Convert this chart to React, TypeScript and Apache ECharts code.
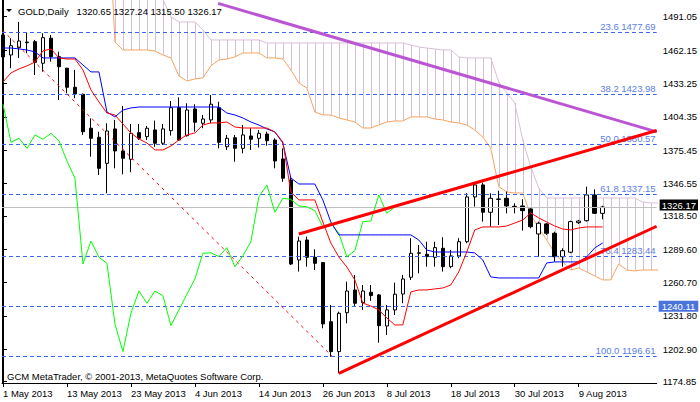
import React, { useEffect, useRef } from 'react';
import * as echarts from 'echarts';

// ---------- data ----------
const dateLabels = ['1 May 2013', '13 May 2013', '23 May 2013', '4 Jun 2013', '14 Jun 2013', '26 Jun 2013', '8 Jul 2013', '18 Jul 2013', '30 Jul 2013', '9 Aug 2013'];
const dateTickBars = [0, 8, 16, 24, 32, 40, 48, 56, 64, 72];
const priceTicks = [1491.05, 1462.15, 1433.25, 1404.35, 1375.45, 1346.55, 1318.5, 1289.6, 1260.7, 1231.8, 1202.9, 1174.85];

const opens = [1475.2, 1457.9, 1464.2, 1468.5, 1469.4, 1450.7, 1472.4, 1456.4, 1446.4, 1429.9, 1423.8, 1394.4, 1386.6, 1364.0, 1393.8, 1374.7, 1367.5, 1390.6, 1387.1, 1392.9, 1381.4, 1392.3, 1412.2, 1388.0, 1411.1, 1398.7, 1401.6, 1412.2, 1378.4, 1386.2, 1377.0, 1387.7, 1385.7, 1389.4, 1384.2, 1367.8, 1349.6, 1280.3, 1297.6, 1282.6, 1278.0, 1226.8, 1200.9, 1234.6, 1254.3, 1243.3, 1252.3, 1250.0, 1223.1, 1237.0, 1250.8, 1265.3, 1286.1, 1285.2, 1282.6, 1290.4, 1274.5, 1283.8, 1296.1, 1334.9, 1345.3, 1321.6, 1333.1, 1333.7, 1326.8, 1327.1, 1324.5, 1302.8, 1311.5, 1303.4, 1283.1, 1287.0, 1312.6, 1314.3, 1336.6, 1320.65];
const closes = [1456.2, 1465.9, 1470.0, 1469.1, 1451.5, 1472.9, 1456.4, 1447.7, 1429.9, 1424.1, 1391.4, 1385.7, 1359.7, 1392.0, 1374.7, 1368.4, 1390.0, 1385.7, 1394.4, 1381.4, 1393.8, 1412.2, 1384.2, 1410.2, 1399.6, 1402.4, 1415.2, 1382.2, 1385.7, 1377.0, 1388.6, 1384.9, 1390.0, 1383.6, 1366.0, 1351.1, 1276.8, 1296.7, 1282.6, 1277.4, 1224.9, 1200.9, 1234.1, 1253.4, 1242.8, 1253.4, 1249.4, 1223.4, 1237.0, 1250.6, 1263.8, 1286.1, 1286.5, 1283.2, 1291.0, 1274.5, 1283.8, 1296.1, 1334.9, 1345.3, 1321.6, 1333.7, 1332.8, 1327.1, 1326.4, 1323.0, 1309.1, 1312.1, 1303.4, 1283.1, 1288.3, 1313.5, 1314.0, 1336.6, 1320.7, 1326.17];
const lows = [1438.8, 1446.4, 1455.3, 1459.4, 1440.5, 1443.4, 1452.1, 1418.9, 1424.7, 1420.4, 1388.6, 1369.8, 1353.9, 1338.1, 1359.7, 1354.5, 1356.3, 1384.2, 1384.2, 1378.4, 1379.9, 1388.0, 1383.4, 1387.1, 1391.4, 1394.4, 1398.7, 1377.0, 1375.6, 1365.4, 1372.7, 1375.6, 1377.6, 1379.3, 1359.7, 1348.1, 1275.9, 1270.2, 1274.5, 1271.6, 1221.1, 1196.5, 1182.1, 1225.4, 1239.8, 1237.0, 1244.8, 1208.6, 1215.3, 1232.6, 1242.8, 1262.9, 1268.8, 1274.5, 1274.5, 1270.2, 1273.1, 1281.8, 1294.8, 1326.5, 1313.5, 1309.1, 1310.6, 1320.7, 1320.7, 1305.7, 1307.7, 1283.1, 1302.0, 1278.8, 1274.5, 1286.1, 1311.5, 1313.6, 1320.2, 1315.5];
const highs = [1477.8, 1472.4, 1486.5, 1477.5, 1470.9, 1476.7, 1475.2, 1460.7, 1446.8, 1444.9, 1424.5, 1403.0, 1391.4, 1398.7, 1401.6, 1413.7, 1398.1, 1398.1, 1396.4, 1401.0, 1398.1, 1418.0, 1421.2, 1416.0, 1415.2, 1405.9, 1423.2, 1417.4, 1388.6, 1388.6, 1397.2, 1394.4, 1392.9, 1391.4, 1385.7, 1377.0, 1352.2, 1300.5, 1300.5, 1289.6, 1278.5, 1241.3, 1235.5, 1261.5, 1267.3, 1258.6, 1258.6, 1250.8, 1241.3, 1260.6, 1267.3, 1299.1, 1293.3, 1296.1, 1296.1, 1300.0, 1289.0, 1299.1, 1338.1, 1347.3, 1347.3, 1338.1, 1340.3, 1339.5, 1329.4, 1332.9, 1325.1, 1313.5, 1312.1, 1304.8, 1290.4, 1314.3, 1315.0, 1343.8, 1341.5, 1327.24];

const tenkan = [1434.5, 1442.3, 1445.8, 1448.4, 1451.8, 1461.4, 1463.1, 1455.3, 1454.4, 1454.4, 1444.9, 1427.6, 1417.2, 1407.6, 1405.9, 1398.1, 1390.3, 1385.1, 1381.6, 1375.6, 1375.6, 1379.0, 1384.2, 1388.6, 1390.3, 1397.2, 1399.0, 1399.0, 1399.8, 1395.5, 1394.6, 1394.6, 1394.6, 1394.6, 1391.2, 1382.5, 1339.2, 1332.3, 1332.3, 1332.3, 1313.2, 1295.0, 1282.9, 1274.2, 1263.0, 1243.0, 1240.4, 1237.0, 1230.1, 1224.0, 1224.0, 1252.6, 1254.3, 1254.3, 1255.2, 1256.0, 1258.6, 1269.9, 1287.2, 1306.3, 1308.9, 1308.9, 1308.9, 1309.7, 1312.3, 1314.9, 1321.0, 1316.7, 1313.2, 1309.7, 1307.1, 1306.3, 1308.0, 1308.9, 1308.9, 1308.9];
const kijun = [1463.9, 1463.9, 1463.1, 1462.2, 1460.5, 1455.3, 1455.3, 1455.3, 1455.3, 1455.3, 1449.2, 1443.2, 1443.2, 1408.5, 1404.2, 1410.2, 1412.0, 1412.8, 1412.8, 1412.8, 1412.8, 1412.8, 1412.8, 1412.8, 1412.8, 1412.8, 1412.8, 1412.8, 1407.6, 1405.9, 1403.3, 1399.8, 1397.2, 1393.8, 1391.2, 1381.6, 1351.3, 1346.1, 1346.1, 1346.1, 1332.3, 1313.2, 1302.0, 1302.0, 1302.0, 1302.0, 1302.0, 1302.0, 1302.0, 1302.0, 1302.0, 1302.0, 1297.6, 1288.9, 1287.2, 1287.2, 1287.2, 1287.2, 1287.2, 1286.4, 1280.3, 1265.6, 1264.7, 1264.7, 1264.7, 1264.7, 1264.7, 1264.7, 1277.7, 1278.6, 1278.6, 1278.6, 1278.6, 1282.9, 1290.7, 1295.0];
const chikou = [1415.2, 1382.2, 1385.7, 1377.0, 1388.6, 1384.9, 1390.0, 1383.6, 1366.0, 1351.1, 1276.8, 1296.7, 1282.6, 1277.4, 1224.9, 1200.9, 1234.1, 1253.4, 1242.8, 1253.4, 1249.4, 1223.4, 1237.0, 1250.6, 1263.8, 1286.1, 1286.5, 1283.2, 1291.0, 1274.5, 1283.8, 1296.1, 1334.9, 1345.3, 1321.6, 1333.7, 1332.8, 1327.1, 1326.4, 1323.0, 1309.1, 1312.1, 1303.4, 1283.1, 1288.3, 1313.5, 1314.0, 1336.6, 1320.7, 1326.17];
const spanA = [1610, 1610, 1610, 1610, 1610, 1610, 1610, 1610, 1610, 1610, 1610, 1610, 1610, 1610, 1469.1, 1462.2, 1462.2, 1462.2, 1462.2, 1461.3, 1457.9, 1455.3, 1439.7, 1435.4, 1437.1, 1438.0, 1448.4, 1453.6, 1454.4, 1456.2, 1459.6, 1459.6, 1459.6, 1455.3, 1455.3, 1454.4, 1444.9, 1433.6, 1429.3, 1408.5, 1405.9, 1405.9, 1403.3, 1401.6, 1399.8, 1394.6, 1394.6, 1397.2, 1399.8, 1400.7, 1400.7, 1404.2, 1404.2, 1404.2, 1402.4, 1401.6, 1399.8, 1399.0, 1397.2, 1392.9, 1386.9, 1377.0, 1343.8, 1339.2, 1338.3, 1338.3, 1319.3, 1308.0, 1297.6, 1286.3, 1278.6, 1271.6, 1273.4, 1269.9, 1266.4, 1263.0, 1263.0, 1276.8, 1271.6, 1270.8, 1271.6, 1271.6, 1271.6];
const spanB = [1560, 1560, 1560, 1560, 1560, 1560, 1560, 1560, 1560, 1560, 1560, 1560, 1560, 1560, 1560, 1560, 1560, 1560, 1560, 1560, 1506.0, 1490.8, 1486.5, 1486.5, 1486.5, 1479.5, 1470.9, 1470.9, 1470.9, 1470.9, 1470.9, 1470.9, 1470.9, 1468.3, 1468.3, 1468.3, 1468.3, 1468.3, 1468.3, 1468.3, 1468.3, 1468.3, 1468.3, 1468.3, 1468.3, 1468.3, 1468.3, 1468.3, 1468.3, 1468.3, 1468.3, 1466.5, 1464.8, 1463.9, 1463.1, 1462.2, 1462.2, 1456.2, 1455.3, 1455.3, 1455.3, 1455.3, 1434.5, 1425.0, 1416.3, 1384.3, 1360.9, 1342.7, 1334.0, 1334.0, 1334.0, 1334.0, 1334.0, 1334.0, 1334.0, 1334.0, 1334.0, 1334.0, 1334.0, 1334.0, 1330.5, 1329.7, 1329.7];

const fibLevels = [23.6, 38.2, 50.0, 61.8, 76.4, 100.0];
const fibPrices = [1477.69, 1423.98, 1380.57, 1337.15, 1283.44, 1196.61];
const fibBase = [[-12.5, 1564.5], [41.2, 1196.61]];
const purpleLine = [[26.9, 1502.6], [81.75, 1391.3]];
const upperRedLine = [[37, 1302.8], [81.75, 1392.5]];
const lowerRedLine = [[42, 1182.1], [81.75, 1309.5]];
const levelLine = 1240.11;

const Y_MIN = 1173.7;
const Y_MAX = 1505.5;
const X_MIN = -0.125;
const X_MAX = 81.75;

const FONT = '"Liberation Sans", Arial, sans-serif';
const FS = 9.5;

export default function App() {
  const ref = useRef<HTMLDivElement>(null);

  useEffect(() => {
    if (!ref.current) return;
    const chart = echarts.init(ref.current, undefined, { renderer: 'svg' });
    const last = opens.length - 1;
    const candleData = opens.map((o, i) => [i, o, closes[i], lows[i], highs[i]]);
    const pair = (arr: number[]) => arr.map((v, i) => [i, v]);

    const option: any = {
      animation: false,
      backgroundColor: '#ffffff',
      grid: { left: 2, right: 43, top: 0, bottom: 19 },
      xAxis: {
        type: 'value',
        min: X_MIN,
        max: X_MAX,
        axisLine: { show: true, onZero: false, lineStyle: { color: '#000', width: 1 } },
        axisTick: { show: true, customValues: dateTickBars, length: 4, lineStyle: { color: '#000' } },
        axisLabel: {
          customValues: dateTickBars,
          formatter: (v: number) => dateLabels[dateTickBars.indexOf(Math.round(v))] ?? '',
          align: 'left',
          margin: 5,
          color: '#000',
          fontSize: FS,
          fontFamily: FONT,
        },
        splitLine: { show: false },
      },
      yAxis: [
        {
          type: 'value',
          position: 'right',
          min: Y_MIN,
          max: Y_MAX,
          axisLine: { show: true, lineStyle: { color: '#000', width: 1 } },
          axisTick: { show: true, customValues: priceTicks, length: 4, lineStyle: { color: '#000' } },
          axisLabel: {
            customValues: priceTicks,
            formatter: (v: number) => v.toFixed(2),
            margin: 6,
            color: '#000',
            fontSize: FS,
            lineHeight: 8,
            fontFamily: FONT,
          },
          splitLine: { show: false },
        },
        {
          type: 'value',
          position: 'left',
          min: Y_MIN,
          max: Y_MAX,
          axisLine: { show: true, lineStyle: { color: '#000', width: 1 } },
          axisTick: { show: false },
          axisLabel: { show: false },
          splitLine: { show: false },
        },
      ],
      series: [
        {
          type: 'custom',
          name: 'cloud',
          z: 1,
          silent: true,
          clip: true,
          data: spanA.map((a, i) => [i, a, spanB[i]]),
          encode: { x: 0, y: [1, 2] },
          renderItem: (params: any, api: any) => {
            const i = api.value(0);
            const a = api.value(1);
            const b = api.value(2);
            const lo = Math.max(Math.min(a, b), Y_MIN);
            const hi = Math.min(Math.max(a, b), Y_MAX);
            if (hi <= lo) return null;
            const p1 = api.coord([i, lo]);
            const p2 = api.coord([i, hi]);
            const x = Math.round(p1[0]) + 0.5;
            return {
              type: 'line',
              shape: { x1: x, y1: p1[1], x2: x, y2: p2[1] },
              style: { stroke: b >= a ? '#D8BFD8' : '#F4A460', lineWidth: 1 },
            };
          },
        },
        {
          type: 'line',
          name: 'spanA',
          z: 2,
          data: pair(spanA),
          showSymbol: false,
          lineStyle: { color: '#F4A460', width: 1 },
          silent: true,
        },
        {
          type: 'line',
          name: 'spanB',
          z: 2,
          data: pair(spanB),
          showSymbol: false,
          lineStyle: { color: '#D8BFD8', width: 1 },
          silent: true,
        },
        {
          type: 'candlestick',
          name: 'GOLD',
          z: 4,
          data: candleData,
          encode: { x: 0, y: [1, 2, 3, 4] },
          barWidth: 4,
          itemStyle: {
            color: '#ffffff',
            color0: '#000000',
            borderColor: '#000000',
            borderColor0: '#000000',
            borderWidth: 1,
          },
          silent: true,
          markLine: {
            symbol: 'none',
            silent: true,
            animation: false,
            data: [
              {
                yAxis: closes[last],
                lineStyle: { color: '#C0C0C0', type: 'solid', width: 1 },
                label: {
                  show: true,
                  position: 'end',
                  distance: 3,
                  offset: [0, -2],
                  formatter: closes[last].toFixed(2),
                  color: '#fff',
                  backgroundColor: '#000',
                  padding: [1, 2, 0, 2],
                  lineHeight: 10,
                  fontSize: FS,
                  fontFamily: FONT,
                },
              },
              {
                yAxis: levelLine,
                lineStyle: { color: '#3a66e8', type: [4, 3], width: 1 },
                label: {
                  show: true,
                  position: 'end',
                  distance: 2,
                  formatter: levelLine.toFixed(2),
                  color: '#fff',
                  backgroundColor: '#4a74dc',
                  padding: [1, 3, 0, 3],
                  lineHeight: 10,
                  fontSize: FS,
                  fontFamily: FONT,
                },
              },
            ],
          },
        },
        {
          type: 'line',
          name: 'fibo',
          z: 5,
          data: fibBase,
          showSymbol: false,
          lineStyle: { color: '#FF0000', width: 1, type: [3, 4] },
          silent: true,
          markLine: {
            symbol: 'none',
            silent: true,
            animation: false,
            lineStyle: { color: '#3a66e8', type: [4, 3], width: 1 },
            label: {
              show: true,
              position: 'insideEndTop',
              distance: 1,
              color: '#5a7de6',
              fontSize: FS,
              fontFamily: FONT,
            },
            data: fibPrices.map((p, k) => ({
              yAxis: p,
              label: { formatter: `${fibLevels[k].toFixed(1)} ${p.toFixed(2)}` },
            })),
          },
        },
        {
          type: 'line',
          name: 'chikou',
          z: 6,
          data: pair(chikou),
          showSymbol: false,
          lineStyle: { color: '#00FF00', width: 1 },
          silent: true,
        },
        {
          type: 'line',
          name: 'kijun',
          z: 6,
          data: pair(kijun),
          showSymbol: false,
          lineStyle: { color: '#0000FF', width: 1 },
          silent: true,
        },
        {
          type: 'line',
          name: 'tenkan',
          z: 6,
          data: pair(tenkan),
          showSymbol: false,
          lineStyle: { color: '#FF0000', width: 1 },
          silent: true,
        },
        {
          type: 'line',
          name: 'purpleTrend',
          z: 7,
          data: purpleLine,
          showSymbol: false,
          lineStyle: { color: '#BA55D3', width: 3 },
          silent: true,
        },
        {
          type: 'line',
          name: 'upperTrend',
          z: 7,
          data: upperRedLine,
          showSymbol: false,
          lineStyle: { color: '#FF0000', width: 3 },
          silent: true,
        },
        {
          type: 'line',
          name: 'lowerTrend',
          z: 7,
          data: lowerRedLine,
          showSymbol: false,
          lineStyle: { color: '#FF0000', width: 3 },
          silent: true,
        },
      ],
      graphic: [
        {
          type: 'polygon',
          z: 100,
          shape: { points: [[6, 9], [12, 9], [9, 12]] },
          style: { fill: '#000' },
        },
        {
          type: 'text',
          z: 100,
          x: 18,
          y: 11,
          style: {
            text: `GOLD,Daily   ${opens[last].toFixed(2)} ${highs[last].toFixed(2)} ${lows[last].toFixed(2)} ${closes[last].toFixed(2)}`,
            fill: '#000',
            fontSize: FS,
            fontFamily: FONT,
            verticalAlign: 'middle',
          },
        },
        {
          type: 'text',
          z: 100,
          x: 7,
          y: 376,
          style: {
            text: 'GCM MetaTrader, © 2001-2013, MetaQuotes Software Corp.',
            fill: '#000',
            fontSize: FS,
            fontFamily: FONT,
            verticalAlign: 'middle',
          },
        },
      ],
    };

    chart.setOption(option);
    return () => {
      chart.dispose();
    };
  }, []);

  return (
    <div
      ref={ref}
      style={{ position: 'fixed', left: 0, top: 0, width: 700, height: 402, background: '#fff' }}
    />
  );
}
